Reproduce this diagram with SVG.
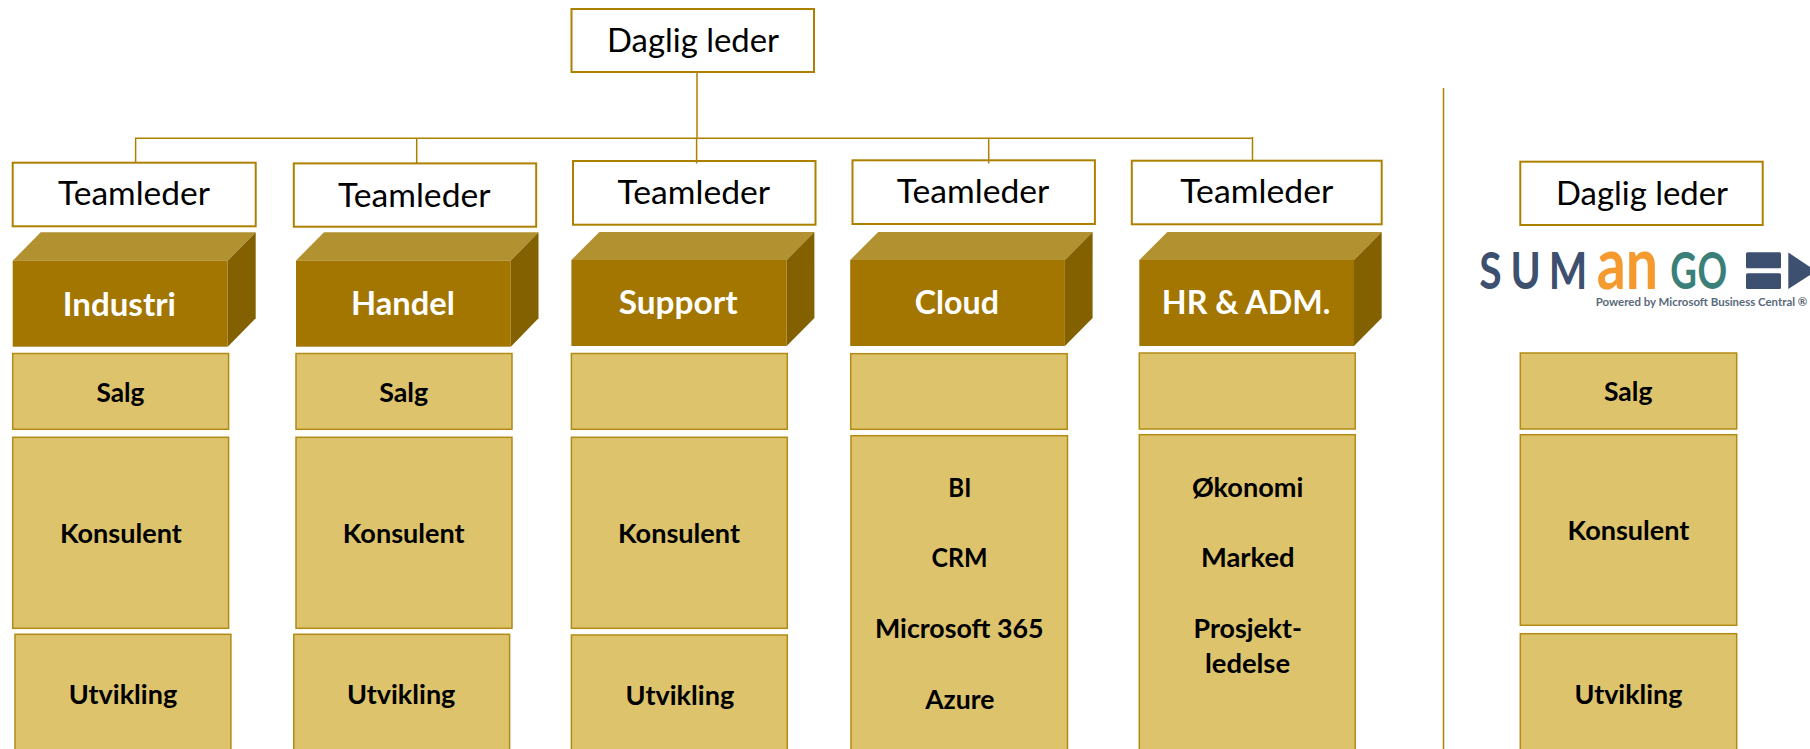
<svg xmlns="http://www.w3.org/2000/svg" width="1810" height="749" viewBox="0 0 1810 749">
<style>
text{font-family:"Lato","Carlito","Liberation Sans",sans-serif}
.box{fill:#fff;stroke:#ad8000;stroke-width:2}
.unit{fill:#dcc36c;stroke:#b28a14;stroke-width:1.5}
.front{fill:#a27600}.top{fill:#b29130}.side{fill:#836000}
.lead{font-size:32px;fill:#000}
.cube{font-size:32px;font-weight:700;fill:#fff}
.lab{font-size:26px;font-weight:700;fill:#000}
.line{fill:none;stroke:#ad8000;stroke-width:1.5}
.navy{fill:#3d5070}
</style>
<rect width="1810" height="749" fill="#fff"/>
<g id="daglig-leder"><rect class="box" x="571.5" y="9" width="242.5" height="63"/><text class="lead" x="607" y="52" textLength="172" lengthAdjust="spacingAndGlyphs">Daglig leder</text></g>
<g id="teamleder-1"><rect class="box" x="12.7" y="162.7" width="243" height="63.6"/><text class="lead" x="58" y="205" textLength="152" lengthAdjust="spacingAndGlyphs">Teamleder</text></g>
<g id="teamleder-2"><rect class="box" x="293.8" y="163.4" width="242.4" height="63.3"/><text class="lead" x="338" y="206.7" textLength="152.5" lengthAdjust="spacingAndGlyphs">Teamleder</text></g>
<g id="teamleder-3"><rect class="box" x="573" y="161" width="242.5" height="63.7"/><text class="lead" x="617.6" y="204" textLength="152.5" lengthAdjust="spacingAndGlyphs">Teamleder</text></g>
<g id="teamleder-4"><rect class="box" x="852.5" y="160.3" width="242.4" height="63.7"/><text class="lead" x="896.8" y="203.3" textLength="152.5" lengthAdjust="spacingAndGlyphs">Teamleder</text></g>
<g id="teamleder-5"><rect class="box" x="1131.8" y="160.7" width="249.9" height="63.6"/><text class="lead" x="1180.3" y="203" textLength="153" lengthAdjust="spacingAndGlyphs">Teamleder</text></g>
<g id="daglig-leder-sumango"><rect class="box" x="1520.3" y="161.7" width="242.4" height="63.3"/><text class="lead" x="1556" y="205" textLength="172" lengthAdjust="spacingAndGlyphs">Daglig leder</text></g>

<g id="cube-industri"><path class="top" d="M12.7 260.7L40.7 232.3H255.7L227.7 260.7Z"/><path class="side" d="M227.7 260.7L255.7 232.3V318.3L227.7 346.7Z"/><rect class="front" x="12.7" y="260.7" width="215" height="86"/><text class="cube" x="62.7" y="315.7" textLength="113.3" lengthAdjust="spacingAndGlyphs">Industri</text></g>
<g id="cube-handel"><path class="top" d="M296 260.5L324 232.3H538.5L510.8 260.5Z"/><path class="side" d="M510.8 260.5L538.5 232.3V318.3L510.8 346.7Z"/><rect class="front" x="296" y="260.5" width="214.8" height="86.2"/><text class="cube" x="351" y="315" textLength="103.8" lengthAdjust="spacingAndGlyphs">Handel</text></g>
<g id="cube-support"><path class="top" d="M571.4 260L599.4 232H814.4L786.7 260Z"/><path class="side" d="M786.7 260L814.4 232V318L786.7 346Z"/><rect class="front" x="571.4" y="260" width="215.3" height="86"/><text class="cube" x="618.7" y="314" textLength="118.9" lengthAdjust="spacingAndGlyphs">Support</text></g>
<g id="cube-cloud"><path class="top" d="M850.2 260L878.2 232H1092.6L1064.9 260Z"/><path class="side" d="M1064.9 260L1092.6 232V318L1064.9 346Z"/><rect class="front" x="850.2" y="260" width="214.7" height="86"/><text class="cube" x="914.8" y="314.3" textLength="84.2" lengthAdjust="spacingAndGlyphs">Cloud</text></g>
<g id="cube-hr"><path class="top" d="M1139.3 260L1167.3 232H1381.7L1354 260Z"/><path class="side" d="M1354 260L1381.7 232V318L1354 346Z"/><rect class="front" x="1139.3" y="260" width="214.7" height="86"/><text class="cube" x="1161.8" y="314" textLength="168.6" lengthAdjust="spacingAndGlyphs">HR &amp; ADM.</text></g>

<g id="col1-salg"><rect class="unit" x="12.7" y="353.5" width="215.9" height="75.8"/><text class="lab" x="96.4" y="401.7" textLength="48" lengthAdjust="spacingAndGlyphs">Salg</text></g>
<g id="col1-konsulent"><rect class="unit" x="12.7" y="437.3" width="215.9" height="191"/><text class="lab" x="60" y="542.7" textLength="121.8" lengthAdjust="spacingAndGlyphs">Konsulent</text></g>
<g id="col1-utvikling"><rect class="unit" x="15" y="634.3" width="215.9" height="130"/><text class="lab" x="68.7" y="704" textLength="108.5" lengthAdjust="spacingAndGlyphs">Utvikling</text></g>
<g id="col2-salg"><rect class="unit" x="296" y="353.5" width="216" height="75.8"/><text class="lab" x="379.2" y="401.7" textLength="49" lengthAdjust="spacingAndGlyphs">Salg</text></g>
<g id="col2-konsulent"><rect class="unit" x="296" y="437.3" width="216" height="191"/><text class="lab" x="342.8" y="542.7" textLength="121.8" lengthAdjust="spacingAndGlyphs">Konsulent</text></g>
<g id="col2-utvikling"><rect class="unit" x="293.8" y="634.3" width="215.8" height="130"/><text class="lab" x="346.9" y="704" textLength="108.5" lengthAdjust="spacingAndGlyphs">Utvikling</text></g>
<g id="col3-tom"><rect class="unit" x="571.4" y="353.5" width="215.9" height="75.8"/></g>
<g id="col3-konsulent"><rect class="unit" x="571.4" y="437.3" width="215.9" height="191"/><text class="lab" x="618" y="542.7" textLength="122" lengthAdjust="spacingAndGlyphs">Konsulent</text></g>
<g id="col3-utvikling"><rect class="unit" x="571.4" y="635" width="215.9" height="130"/><text class="lab" x="625.6" y="705" textLength="108.6" lengthAdjust="spacingAndGlyphs">Utvikling</text></g>
<g id="col4-tom"><rect class="unit" x="850.7" y="353.7" width="216.5" height="75.6"/></g>
<g id="col4-fag"><rect class="unit" x="851" y="435.7" width="216.5" height="330"/>
<text class="lab" x="948.3" y="497.3" textLength="23" lengthAdjust="spacingAndGlyphs">BI</text>
<text class="lab" x="931.5" y="567.3" textLength="56" lengthAdjust="spacingAndGlyphs">CRM</text>
<text class="lab" x="875" y="638.3" textLength="168.5" lengthAdjust="spacingAndGlyphs">Microsoft 365</text>
<text class="lab" x="925.2" y="709" textLength="69.3" lengthAdjust="spacingAndGlyphs">Azure</text></g>
<g id="col5-tom"><rect class="unit" x="1139.3" y="353" width="215.9" height="76"/></g>
<g id="col5-fag"><rect class="unit" x="1139.3" y="434.7" width="215.9" height="330"/>
<text class="lab" x="1191.9" y="496.7" textLength="111.4" lengthAdjust="spacingAndGlyphs">Økonomi</text>
<text class="lab" x="1201" y="566.7" textLength="93.6" lengthAdjust="spacingAndGlyphs">Marked</text>
<text class="lab" x="1193.6" y="638" textLength="108.4" lengthAdjust="spacingAndGlyphs">Prosjekt-</text>
<text class="lab" x="1205" y="672.7" textLength="85" lengthAdjust="spacingAndGlyphs">ledelse</text></g>
<g id="col6-salg"><rect class="unit" x="1520.3" y="353" width="216.4" height="76"/><text class="lab" x="1604" y="400.7" textLength="48.4" lengthAdjust="spacingAndGlyphs">Salg</text></g>
<g id="col6-konsulent"><rect class="unit" x="1520.3" y="434.7" width="216.4" height="190.6"/><text class="lab" x="1567.6" y="539.7" textLength="121.8" lengthAdjust="spacingAndGlyphs">Konsulent</text></g>
<g id="col6-utvikling"><rect class="unit" x="1520.3" y="633.7" width="216.4" height="130"/><text class="lab" x="1574.5" y="704" textLength="107.9" lengthAdjust="spacingAndGlyphs">Utvikling</text></g>

<g id="sumango-logo">
<text class="navy" transform="translate(1480 289) scale(.8 1)" font-size="51" font-weight="700" x="-1 38 86" y="0">SUM</text>
<text fill="#f59a2e" x="1596.7" y="289" font-size="72" font-weight="700" textLength="61.3" lengthAdjust="spacingAndGlyphs">an</text>
<text fill="#3a8078" transform="translate(1671.7 289) scale(.72 1)" font-size="51" font-weight="700" x="-2 36" y="0">GO</text>
<rect class="navy" x="1746" y="252.3" width="35" height="16" rx="1.5"/>
<rect class="navy" x="1746" y="273.3" width="35" height="15.7" rx="1.5"/>
<path class="navy" d="M1788.3 252.5L1816 271L1788.3 289Z"/>
<text x="1595.7" y="306" font-size="11.5" font-weight="700" fill="#5a6a7a" textLength="211.6" lengthAdjust="spacingAndGlyphs">Powered by Microsoft Business Central ®</text>
</g>

<g id="connectors">
<path class="line" d="M697 72V138.3"/>
<path class="line" d="M135 138.3H1252.5"/>
<path class="line" d="M135.6 138.3V162"/>
<path class="line" d="M416.7 138.3V163"/>
<path class="line" d="M696.6 138.3V163.5"/>
<path class="line" d="M988.7 138.3V163.5"/>
<path class="line" d="M1252.5 137V160"/>
<path class="line" d="M1443.5 88V749"/>
</g>
</svg>
